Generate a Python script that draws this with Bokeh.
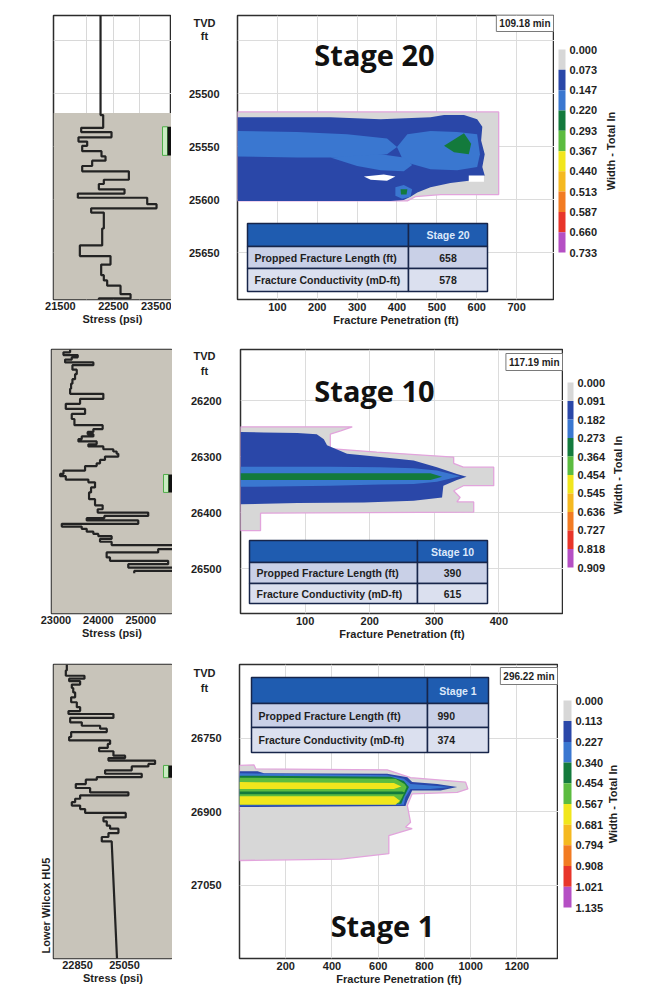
import math
from bokeh.plotting import figure
from bokeh.layouts import row, column
from bokeh.models import Range1d, FixedTicker, Label, Title
from bokeh.core.properties import value
from bokeh.embed import file_html
from bokeh.resources import INLINE

# ======================= DATA =======================
stage_names = ["Stage 20", "Stage 10", "Stage 1"]
elapsed_time = ["109.18 min", "117.19 min", "296.22 min"]
table_row_labels = ["Propped Fracture Length (ft)", "Fracture Conductivity (mD-ft)"]
propped_length_ft = [658, 390, 990]
conductivity_mdft = [578, 615, 374]

width_levels_20 = [0.000, 0.073, 0.147, 0.220, 0.293, 0.367, 0.440, 0.513, 0.587, 0.660, 0.733]
width_levels_10 = [0.000, 0.091, 0.182, 0.273, 0.364, 0.454, 0.545, 0.636, 0.727, 0.818, 0.909]
width_levels_1 = [0.000, 0.113, 0.227, 0.340, 0.454, 0.567, 0.681, 0.794, 0.908, 1.021, 1.135]

stress_ticks_20 = [21500, 22500, 23500]
stress_ticks_10 = [23000, 24000, 25000]
stress_ticks_1 = [22850, 25050]
tvd_ticks_20 = [25500, 25550, 25600, 25650]
tvd_ticks_10 = [26200, 26300, 26400, 26500]
tvd_ticks_1 = [26750, 26900, 27050]
tvd_grid_20 = [25450, 25500, 25550, 25600, 25650]
pen_ticks_20 = [100, 200, 300, 400, 500, 600, 700]
pen_ticks_10 = [100, 200, 300, 400]
pen_ticks_1 = [200, 400, 600, 800, 1000, 1200]

# stress profiles: layer boundaries (TVD ft) and stress (psi) of each layer
s20_bounds = [25426, 25520, 25532, 25536, 25541, 25545, 25549, 25554, 25559, 25563, 25568, 25573,
              25581, 25585, 25590, 25594, 25598, 25604, 25608, 25612, 25627, 25643, 25653, 25661,
              25671, 25676, 25681, 25689, 25693, 25700]
s20_stress = [22257, 22307, 21892, 22464, 21841, 22005, 21911, 22275, 22351, 22099, 21911, 22791,
              22319, 22225, 22709, 21829, 23137, 23313, 22080, 22319, 22288, 21867, 22445, 22269,
              22319, 22382, 22634, 22823, 22225]
s20_zone_top = 25518
s20_perf = [25531, 25558]

s10_bounds = [26109, 26114, 26119, 26123, 26127, 26132, 26137, 26145, 26153, 26162, 26170, 26179,
              26188, 26197, 26206, 26215, 26224, 26233, 26244, 26251, 26256, 26260, 26264, 26269,
              26273, 26278, 26282, 26287, 26291, 26295, 26300, 26306, 26312, 26317, 26325, 26331,
              26335, 26341, 26346, 26355, 26364, 26376, 26387, 26394, 26400, 26406, 26410, 26414,
              26420, 26425, 26429, 26434, 26438, 26442, 26447, 26452, 26458, 26465, 26471, 26480,
              26486, 26492, 26498, 26504, 26508]
s10_stress = [23334, 23177, 23514, 23373, 23216, 23883, 23389, 23491, 23451, 23389, 23357, 23334,
              24118, 23569, 23232, 23687, 23373, 23436, 24102, 23883, 23749, 23883, 23608, 23530,
              23961, 23765, 24118, 24353, 24432, 24471, 24157, 24040, 23961, 23687, 23177, 23099,
              23232, 23765, 23922, 23828, 23781, 23922, 24102, 23985, 25177, 24142, 23726, 24942,
              23138, 23608, 23726, 23883, 24000, 24314, 24040, 24314, 25765, 25412, 24196, 24275,
              25647, 24706, 25765, 24847]
s10_zone_top = 26109
s10_perf = [26332, 26364]

s1_bounds = [26600, 26612, 26623, 26629, 26634, 26641, 26648, 26657, 26667, 26677, 26687, 26695,
             26701, 26709, 26718, 26725, 26731, 26738, 26748, 26755, 26762, 26770, 26777, 26786,
             26791, 26796, 26803, 26808, 26816, 26823, 26830, 26835, 26844, 26852, 26861, 26867,
             26874, 26881, 26888, 26895, 26903, 26912, 26920, 26929, 26935, 26944, 26952, 26961, 26966]
s1_stress = [22349, 22302, 23176, 22458, 22973, 22583, 22650, 22739, 22552, 22817, 22973, 22427,
             24533, 22505, 23051, 23909, 24221, 22552, 22458, 24377, 24268, 23862, 24533, 25079,
             24299, 26483, 26171, 25391, 24143, 25859, 23753, 23238, 22770, 23441, 25235, 22973,
             22739, 22583, 22973, 23207, 25110, 24065, 24221, 24377, 24767, 24299, 23987, 24455]
s1_tail_tvd = [26966, 27200]
s1_tail_stress = [24455, 24700]
s1_zone_top = 26600
s1_perf = [26806, 26831]

# width-contour outlines (fracture penetration ft, TVD ft)
s20_gray_x = [0, 655, 655, 509, 446, 426, 0]
s20_gray_y = [25517, 25517, 25595, 25595, 25597, 25601, 25601]
s20_dblue_x = [0, 233, 359, 484, 518, 568, 601, 614, 611, 620, 614, 620, 580, 534, 484, 451, 434, 417, 384, 0]
s20_dblue_y = [25522, 25522, 25524, 25522, 25520, 25520, 25524, 25531, 25544, 25557, 25569, 25577,
               25582, 25584, 25588, 25593, 25597, 25600, 25601, 25601]
s20_mblue_a_x = [0, 150, 275, 375, 400, 375, 275, 150, 0]
s20_mblue_a_y = [25535, 25536, 25538, 25542, 25550, 25557, 25560, 25560, 25559]
s20_mblue_b_x = [400, 426, 484, 551, 601, 608, 601, 551, 484, 417]
s20_mblue_b_y = [25550, 25538, 25535, 25536, 25538, 25557, 25569, 25572, 25571, 25564]
s20_mblue_c_x = [233, 359, 417, 438, 417, 359, 300]
s20_mblue_c_y = [25560, 25557, 25560, 25567, 25573, 25572, 25568]
s20_mblue_d_x = [396, 417, 438, 434, 413, 396]
s20_mblue_d_y = [25588, 25586, 25590, 25597, 25599, 25596]
s20_dgreen_a_x = [518, 568, 586, 580, 543]
s20_dgreen_a_y = [25549, 25537, 25547, 25557, 25555]
s20_dgreen_b_x = [409, 426, 424, 410]
s20_dgreen_b_y = [25590, 25590, 25595, 25595]
s20_white_a_x = [317, 367, 396, 375, 334]
s20_white_a_y = [25578, 25576, 25578, 25582, 25581]
s20_white_b_x = [580, 618, 618, 580]
s20_white_b_y = [25577, 25577, 25583, 25583]

s10_gray_x = [0, 173, 155, 139, 139, 211, 330, 330, 345, 392, 392, 345, 330, 340, 335, 361, 361, 31, 31, 0]
s10_gray_y = [26247, 26247, 26254, 26260, 26286, 26292, 26301, 26312, 26319, 26319, 26352, 26352,
              26361, 26373, 26381, 26381, 26399, 26401, 26432, 26432]
s10_dblue_x = [0, 36, 88, 118, 129, 134, 165, 216, 268, 304, 335, 350, 335, 314, 312, 268, 191, 88, 0]
s10_dblue_y = [26256, 26257, 26258, 26260, 26269, 26280, 26295, 26301, 26307, 26319, 26331, 26336,
               26342, 26352, 26373, 26379, 26382, 26383, 26385]
s10_mblue_x = [0, 139, 216, 268, 304, 340, 304, 268, 216, 139, 0]
s10_mblue_y = [26318, 26318, 26319, 26321, 26325, 26335, 26345, 26349, 26350, 26352, 26354]
s10_dgreen_x = [0, 294, 312, 294, 0]
s10_dgreen_y = [26330, 26330, 26336, 26342, 26342]

s1_gray_x = [0, 63, 70, 639, 740, 978, 988, 942, 747, 726, 740, 718, 747, 646, 646, 438, 0]
s1_gray_y = [26806, 26805, 26813, 26815, 26831, 26840, 26854, 26861, 26864, 26888, 26922, 26932,
             26935, 26949, 26986, 26997, 27000]
s1_dblue_x = [0, 78, 106, 639, 726, 747, 855, 942, 870, 747, 726, 718, 0]
s1_dblue_y = [26818, 26818, 26822, 26823, 26830, 26840, 26844, 26850, 26857, 26857, 26878, 26889, 26891]
s1_mblue_x = [0, 639, 711, 740, 826, 913, 826, 740, 718, 711, 0]
s1_mblue_y = [26822, 26826, 26833, 26844, 26847, 26850, 26854, 26854, 26871, 26886, 26888]
s1_dgreen_x = [0, 654, 711, 733, 711, 700, 0]
s1_dgreen_y = [26827, 26829, 26838, 26850, 26871, 26884, 26886]
s1_green_x = [0, 675, 714, 723, 704, 690, 0]
s1_green_y = [26831, 26833, 26844, 26850, 26871, 26883, 26884]
s1_yellow_a_x = [0, 668, 700, 668, 0]
s1_yellow_a_y = [26840, 26842, 26849, 26854, 26854]
s1_dgreen_mid_x = [0, 704, 718, 704, 0]
s1_dgreen_mid_y = [26859, 26859, 26862, 26865, 26865]
s1_yellow_b_x = [0, 668, 694, 675, 0]
s1_yellow_b_y = [26869, 26869, 26878, 26886, 26886]

# ======================= STYLE =======================
FONT = "Liberation Sans"
TXT = "#1e1e1e"
BAND_COLORS = ["#d7d7d7", "#2a47a8", "#3a77d0", "#137a3c", "#5cbc40", "#f1e61c",
               "#f5b920", "#f27b22", "#e8352a", "#b54fc4"]
GRAY, DBLUE, MBLUE, DGREEN, GREEN, YELLOW = BAND_COLORS[:6]
PINK = "#e2a4dc"
ZONE = "#c8c4ba"
TABLE_FS = "10.5px"


def style_axis(ax, size="11px"):
    ax.major_label_text_font = FONT
    ax.major_label_text_font_size = size
    ax.major_label_text_font_style = "bold"
    ax.major_label_text_color = TXT
    ax.axis_label_text_font = FONT
    ax.axis_label_text_font_size = size
    ax.axis_label_text_font_style = "bold"
    ax.axis_label_text_color = TXT
    ax.axis_line_color = None
    ax.major_tick_line_color = None
    ax.minor_tick_line_color = None
    ax.major_tick_out = 0
    ax.major_tick_in = 0
    ax.minor_tick_out = 0
    ax.minor_tick_in = 0


def base_fig(c, width, xr, left=0, right=0, xaxis=None, yaxis=None):
    return figure(width=width, height=c["H"], x_range=xr,
                  y_range=Range1d(c["tvd"][1], c["tvd"][0]),
                  min_border_left=left, min_border_right=right,
                  min_border_top=c["top"], min_border_bottom=c["bottom"],
                  x_axis_location=xaxis, y_axis_location=yaxis,
                  output_backend="svg", toolbar_location=None, title=None)


def stress_fig(c):
    fw = c["s_w"] - c["s_left"]
    x0, x1 = c["s_range"]
    p = base_fig(c, c["s_w"], Range1d(x0, x1), left=c["s_left"], xaxis="below")
    p.outline_line_color = "#2b2b2b"
    p.outline_line_width = 1.5
    p.xaxis.ticker = FixedTicker(ticks=c["s_ticks"])
    p.xaxis.axis_label = "Stress (psi)"
    style_axis(p.xaxis[0])
    p.xaxis.major_label_standoff = 2
    p.xaxis.axis_label_standoff = 0
    p.xgrid.ticker = FixedTicker(ticks=c["s_grid"])
    p.ygrid.ticker = FixedTicker(ticks=c["s_ygrid"])
    p.grid.grid_line_color = "#d8d8d8"
    p.quad(left=[x0], right=[x1], top=[c["zone_top"]], bottom=[c["tvd"][1]],
           fill_color=ZONE, line_color=None)
    xs, ys = [], []
    for i, s in enumerate(c["stress"]):
        xs += [s, s]
        ys += [c["bounds"][i], c["bounds"][i + 1]]
    if c.get("tail_tvd"):
        xs += c["tail_stress"]
        ys += c["tail_tvd"]
    p.line(xs, ys, line_color="#232323", line_width=2.2)
    dx = (x1 - x0) / fw
    pt, pb = c["perf"]
    p.quad(left=[x1 - 9 * dx], right=[x1 - 4 * dx], top=[pt], bottom=[pb],
           fill_color="#c9ecc2", line_color="#4fae4a", line_width=1)
    p.quad(left=[x1 - 4 * dx], right=[x1], top=[pt], bottom=[pb],
           fill_color="#111111", line_color=None)
    if c.get("side_title"):
        p.add_layout(Title(text=c["side_title"], align="left", text_font=FONT,
                           text_font_size="11px", text_font_style="bold",
                           text_color=TXT, standoff=3, offset=5), "left")
    return p


def depth_fig(c):
    # the TVD scale between the stress log and the fracture profile
    w = c["m_w"]
    fh = c["H"] - c["top"] - c["bottom"]
    ytop, ybot = c["tvd"]
    p = base_fig(c, w, Range1d(0, w))
    p.outline_line_color = None
    p.grid.visible = False
    ticks = c["tvd_ticks"]
    p.text(x=[c["m_lab"]] * len(ticks), y=ticks, text=[str(t) for t in ticks],
           text_font=value(FONT), text_font_size="11px", text_font_style="bold",
           text_color=TXT, text_align="right", text_baseline="middle")
    hx, h1, h2 = c["m_hdr"]
    p.text(x=[hx, hx], y=[ytop + h1 * (ybot - ytop) / fh, ytop + h2 * (ybot - ytop) / fh],
           text=["TVD", "ft"], text_font=value(FONT), text_font_size="11px",
           text_font_style="bold", text_color=TXT, text_align="center", text_baseline="middle")
    return p


def contour_fig(c, k):
    fw = c["c_w"] - 1
    fh = c["H"] - c["top"] - c["bottom"]
    x0, x1 = c["c_range"]
    ytop, ybot = c["tvd"]
    p = base_fig(c, c["c_w"], Range1d(x0, x1), left=1, xaxis="below")
    p.outline_line_color = "#2e2e2e"
    p.outline_line_width = 1.5
    p.xaxis.ticker = FixedTicker(ticks=c["c_ticks"])
    p.xaxis.axis_label = "Fracture Penetration (ft)"
    style_axis(p.xaxis[0])
    p.xaxis.major_label_standoff = 3
    p.xaxis.axis_label_standoff = 0
    p.xgrid.ticker = FixedTicker(ticks=c["c_ticks"])
    p.ygrid.ticker = FixedTicker(ticks=c["tvd_grid"])
    p.grid.grid_line_color = "#dcdcdc"

    for xs, ys, col in c["polys"]:
        if col == GRAY:
            p.patch(xs, ys, fill_color=GRAY, line_color=PINK, line_width=1.3)
        else:
            p.patch(xs, ys, fill_color=col, line_color=None)

    def X(px):
        return x0 + px * (x1 - x0) / fw

    def Y(py):
        return ytop + py * (ybot - ytop) / fh

    tl, ts, tr = c["t_cols"]
    ry = c["t_rows"]
    lefts = [X(tl), X(ts)] * 3
    rights = [X(ts), X(tr)] * 3
    tops = [Y(ry[0])] * 2 + [Y(ry[1])] * 2 + [Y(ry[2])] * 2
    bots = [Y(ry[1])] * 2 + [Y(ry[2])] * 2 + [Y(ry[3])] * 2
    fills = ["#1f5cb0", "#1f5cb0", "#c9d0e7", "#c9d0e7", "#dbe0ef", "#dbe0ef"]
    p.quad(left=lefts, right=rights, top=tops, bottom=bots, fill_color=fills,
           line_color="#17254a", line_width=1.5)
    mid = [Y((ry[i] + ry[i + 1]) / 2) for i in range(3)]
    p.text(x=[X((ts + tr) / 2)], y=[mid[0]], text=[stage_names[k]],
           text_font=value(FONT), text_font_size=TABLE_FS, text_font_style="bold",
           text_color="#dce8fa", text_align="center", text_baseline="middle")
    p.text(x=[X(tl + 7)] * 2, y=mid[1:], text=table_row_labels,
           text_font=value(FONT), text_font_size=TABLE_FS, text_font_style="bold",
           text_color=TXT, text_align="left", text_baseline="middle")
    vals = [str(propped_length_ft[k]), str(conductivity_mdft[k])]
    if c["val_left"]:
        vx, va = X(ts + 10), "left"
    else:
        vx, va = X((ts + tr) / 2), "center"
    p.text(x=[vx] * 2, y=mid[1:], text=vals, text_font=value(FONT),
           text_font_size=TABLE_FS, text_font_style="bold", text_color=TXT,
           text_align=va, text_baseline="middle")

    sx, sy = c["stage_pos"]
    p.add_layout(Label(x=X(sx), y=Y(sy), text=stage_names[k], text_font="Open Sans",
                       text_font_size="29px", text_font_style="bold", text_color="#111111",
                       text_align="center", text_baseline="alphabetic"))
    p.add_layout(Label(x=x1, y=ytop, text=elapsed_time[k], text_font=FONT,
                       text_font_size="10px", text_font_style="bold", text_color=TXT,
                       text_align="right", text_baseline="top", x_offset=-1,
                       y_offset=c["time_dy"], padding=3,
                       border_line_color="#7a7a7a", border_line_width=1,
                       background_fill_color="white"))
    return p


def cbar_fig(c):
    lv = c["levels"]
    w = c["cb_w"]
    fh = c["H"] - c["top"] - c["bottom"]
    bt = c["cb_top"] - c["top"]
    bh = c["cb_fh"]
    sc = (lv[-1] - lv[0]) / bh
    y_top = lv[0] - bt * sc
    y_bot = lv[-1] + (fh - bt - bh) * sc
    p = figure(width=w, height=c["H"], x_range=Range1d(0, w), y_range=Range1d(y_bot, y_top),
               min_border_left=0, min_border_right=0,
               min_border_top=c["top"], min_border_bottom=c["bottom"],
               x_axis_location=None, y_axis_location=None,
               output_backend="svg", toolbar_location=None, title=None)
    p.outline_line_color = None
    p.grid.visible = False
    bl, br = c["cb_left"], c["cb_left"] + c["cb_fw"]
    p.quad(left=bl, right=br, top=lv[:-1], bottom=lv[1:], fill_color=BAND_COLORS, line_color=None)
    p.text(x=[br + 4] * len(lv), y=lv, text=["%.3f" % v for v in lv],
           text_font=value(FONT), text_font_size="11px", text_font_style="bold",
           text_color=TXT, text_align="left", text_baseline="middle")
    p.text(x=[br + c["cb_title_dx"]], y=[(lv[0] + lv[-1]) / 2], text=["Width - Total In"],
           angle=math.pi / 2, text_font=value(FONT), text_font_size="11px",
           text_font_style="bold", text_color=TXT, text_align="center", text_baseline="middle")
    return p


rows_cfg = [
    dict(H=330, top=15, bottom=31, tvd=(25426, 25694),
         s_w=171, s_left=53, s_range=(21370, 23595), s_ticks=stress_ticks_20,
         s_grid=[22000, 22500, 23000], s_ygrid=tvd_grid_20,
         bounds=s20_bounds, stress=s20_stress, zone_top=s20_zone_top, perf=s20_perf,
         m_w=65, m_lab=48, m_hdr=(33, 7, 20), tvd_ticks=tvd_ticks_20,
         c_w=318, c_range=(0, 795), c_ticks=pen_ticks_20, tvd_grid=tvd_grid_20,
         polys=[(s20_gray_x, s20_gray_y, GRAY), (s20_dblue_x, s20_dblue_y, DBLUE),
                (s20_mblue_a_x, s20_mblue_a_y, MBLUE), (s20_mblue_b_x, s20_mblue_b_y, MBLUE),
                (s20_mblue_c_x, s20_mblue_c_y, MBLUE), (s20_mblue_d_x, s20_mblue_d_y, MBLUE),
                (s20_dgreen_a_x, s20_dgreen_a_y, DGREEN), (s20_dgreen_b_x, s20_dgreen_b_y, DGREEN),
                (s20_white_a_x, s20_white_a_y, "#ffffff"), (s20_white_b_x, s20_white_b_y, "#ffffff")],
         t_cols=(10, 171, 250), t_rows=(208, 231, 253, 276), val_left=False,
         stage_pos=(137, 39), time_dy=1,
         cb_w=100, cb_left=4, cb_fw=7, cb_top=49, cb_fh=203, cb_title_dx=45,
         levels=width_levels_20),
    dict(H=315, top=19, bottom=32, tvd=(26109, 26580),
         s_w=172, s_left=51, s_range=(22895, 25750), s_ticks=stress_ticks_10,
         s_grid=[], s_ygrid=[],
         bounds=s10_bounds, stress=s10_stress, zone_top=s10_zone_top, perf=s10_perf,
         m_w=67, m_lab=49, m_hdr=(32, 6, 21), tvd_ticks=tvd_ticks_10,
         c_w=324, c_range=(0, 500), c_ticks=pen_ticks_10, tvd_grid=tvd_ticks_10,
         polys=[(s10_gray_x, s10_gray_y, GRAY), (s10_dblue_x, s10_dblue_y, DBLUE),
                (s10_mblue_x, s10_mblue_y, MBLUE), (s10_dgreen_x, s10_dgreen_y, DGREEN)],
         t_cols=(9, 177, 247), t_rows=(191, 213, 234, 254), val_left=False,
         stage_pos=(134, 41), time_dy=-4,
         cb_w=91, cb_left=4, cb_fw=6, cb_top=52, cb_fh=185, cb_title_dx=44,
         levels=width_levels_10),
    dict(H=343, top=19, bottom=30, tvd=(26600, 27200),
         s_w=172, s_left=53, s_range=(21725, 27300), s_ticks=stress_ticks_1,
         s_grid=[], s_ygrid=[],
         bounds=s1_bounds, stress=s1_stress, zone_top=s1_zone_top, perf=s1_perf,
         tail_tvd=s1_tail_tvd, tail_stress=s1_tail_stress, side_title="Lower Wilcox HU5",
         m_w=66, m_lab=49, m_hdr=(32, 8, 23), tvd_ticks=tvd_ticks_1,
         c_w=320, c_range=(0, 1380), c_ticks=pen_ticks_1, tvd_grid=tvd_ticks_1,
         polys=[(s1_gray_x, s1_gray_y, GRAY), (s1_dblue_x, s1_dblue_y, DBLUE),
                (s1_mblue_x, s1_mblue_y, MBLUE), (s1_dgreen_x, s1_dgreen_y, DGREEN),
                (s1_green_x, s1_green_y, GREEN), (s1_yellow_a_x, s1_yellow_a_y, YELLOW),
                (s1_dgreen_mid_x, s1_dgreen_mid_y, DGREEN), (s1_yellow_b_x, s1_yellow_b_y, YELLOW)],
         t_cols=(12, 188, 249), t_rows=(13, 39, 63, 88), val_left=True,
         stage_pos=(143, 261), time_dy=-3,
         cb_w=96, cb_left=5, cb_fw=8, cb_top=55, cb_fh=207, cb_title_dx=41,
         levels=width_levels_1),
]

rows_out = []
for k, c in enumerate(rows_cfg):
    rows_out.append(row(stress_fig(c), depth_fig(c), contour_fig(c, k), cbar_fig(c)))

layout = column(*rows_out)
open("out.html", "w").write(file_html(layout, INLINE))
